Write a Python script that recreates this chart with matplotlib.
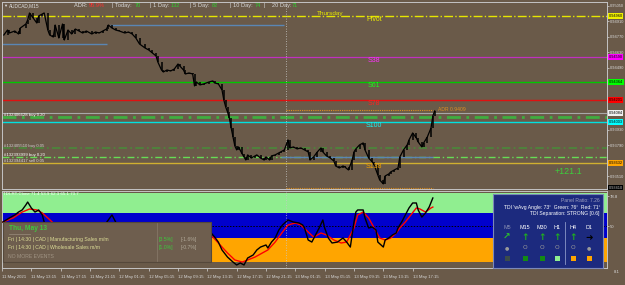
import matplotlib
matplotlib.use('Agg')
import matplotlib.pyplot as plt
from matplotlib.patches import Rectangle
from matplotlib.transforms import blended_transform_factory

plt.rcParams['font.family'] = ['Liberation Sans', 'DejaVu Sans']

# --- Data ---
# M15 bar index (0 = 11 May 09:15) and close price
bars = [1, 3, 4, 7, 9, 10, 13, 14, 15, 17,
        19, 20, 22, 23, 25, 26, 28, 29, 31, 33,
        34, 36, 38, 40, 42, 44, 46, 49, 51, 53,
        55, 57, 58, 60, 62, 64, 67, 69, 71, 73,
        75, 78, 80, 82, 84, 85, 87, 88, 90, 92,
        94, 96, 97, 99, 100, 102, 104, 105, 106, 108,
        110, 113, 115, 116, 118, 120, 121, 122, 123, 124,
        125, 126, 127, 128, 129, 131, 132, 133, 134, 136,
        138, 139, 141, 143, 144, 146, 147, 149, 151, 152,
        154, 156, 157, 159, 161, 163, 165, 167, 168, 170,
        172, 174, 175, 177, 179, 181, 182, 184, 186, 187,
        189, 191, 192, 193, 195, 197, 198, 200, 202, 203,
        205, 206, 208, 209, 211, 212, 214, 216, 217, 219,
        221, 222, 224, 226, 227, 229, 230, 232, 234, 235, 236]
closes = [0.94788, 0.94833, 0.94806, 0.94824, 0.94797, 0.94851, 0.94887, 0.94924, 0.94987, 0.94942,
          0.94896, 0.94960, 0.94978, 0.94987, 0.94833, 0.94788, 0.94770, 0.94878, 0.94761, 0.94887,
          0.94743, 0.94833, 0.94797, 0.94842, 0.94824, 0.94806, 0.94824, 0.94797, 0.94815, 0.94806,
          0.94824, 0.94842, 0.94878, 0.94851, 0.94833, 0.94824, 0.94806, 0.94815, 0.94797, 0.94761,
          0.94707, 0.94671, 0.94653, 0.94626, 0.94599, 0.94544, 0.94472, 0.94454, 0.94472, 0.94463,
          0.94481, 0.94526, 0.94508, 0.94472, 0.94436, 0.94445, 0.94436, 0.94328, 0.94364, 0.94337,
          0.94346, 0.94364, 0.94373, 0.94355, 0.94346, 0.94292, 0.94201, 0.94138, 0.94093, 0.94039,
          0.93948, 0.93867, 0.93786, 0.93750, 0.93777, 0.93714, 0.93687, 0.93659, 0.93705, 0.93677,
          0.93696, 0.93705, 0.93677, 0.93659, 0.93687, 0.93659, 0.93696, 0.93705, 0.93723, 0.93732,
          0.93750, 0.93840, 0.93768, 0.93777, 0.93759, 0.93768, 0.93750, 0.93732, 0.93659, 0.93687,
          0.93732, 0.93768, 0.93732, 0.93696, 0.93677, 0.93650, 0.93605, 0.93587, 0.93605, 0.93596,
          0.93569, 0.93659, 0.93732, 0.93759, 0.93795, 0.93813, 0.93750, 0.93677, 0.93641, 0.93614,
          0.93524, 0.93479, 0.93443, 0.93515, 0.93533, 0.93551, 0.93569, 0.93587, 0.93687, 0.93750,
          0.93795, 0.93840, 0.93903, 0.93858, 0.93822, 0.93777, 0.93813, 0.93867, 0.93948, 0.94057, 0.94102]

# horizontal levels: price, colour, style, width
level_prices = [0.94960, 0.94590, 0.94364, 0.94201, 0.94084, 0.94048, 0.94003, 0.93768, 0.93687, 0.93632]
level_colors = ['#e6e600', '#c030c0', '#00c800', '#e01010', '#a8a8a8', '#3fae3f', '#00e0e0', '#4a8a3a', '#66dd55', '#d0b030']
level_styles = ['-.', '-', '-', '-', '-', (0, (5, 2, 1, 2)), '-', (0, (5, 2, 1, 2)), (0, (5, 2, 1, 2)), '-']
level_widths = [1.0, 0.9, 1.0, 1.0, 0.8, 2.0, 1.0, 1.2, 1.0, 1.0]

fib_names = ['Pivot', 'S38', 'S61', 'S78', 'S100', 'S138']
fib_prices = [0.94960, 0.94590, 0.94364, 0.94201, 0.94003, 0.93632]
fib_colors = ['#f0f000', '#ff30ff', '#20f020', '#ff2020', '#20f0f0', '#f0a000']

trade_labels = ['#132406628 buy 0.20', '#132405510 buy 0.05', '#132393999 buy 0.20', '#132394417 sell 0.05']
trade_prices = [0.94048, 0.93768, 0.93687, 0.93632]
trade_colors = ['#ffffff', '#cfcfcf', '#ffffff', '#e0e0e0']

# steel-blue segments: start bar, end bar, price
seg_start = [0, 59, 152]
seg_end = [57, 154, 235]
seg_price = [0.94707, 0.94878, 0.93687]

adr_high = 0.94111
adr_low = 0.93402
day_break = 155

box_prices = [0.94960, 0.94590, 0.94364, 0.94201, 0.94084, 0.94003, 0.93632, 0.93410]
box_colors = ['#f0f000', '#ff00ff', '#00ff00', '#ff0000', '#f0f0f0', '#00ffff', '#ffa500', '#000000']

# TDI indicator
tdi_px_x = [0.5, 4, 7, 9, 11, 13, 14, 16, 18, 20, 22, 23, 26, 32, 37, 43, 48, 54, 58, 60,
            62, 66, 70, 75, 81, 86, 92, 97, 103, 108, 112, 115, 116, 118, 120, 123, 126, 128, 130, 132,
            134, 137, 139, 141, 144, 145, 147, 149, 151, 153, 156, 159, 162, 164, 165, 167, 169, 171, 173, 175,
            176, 178, 180, 183, 186, 188, 190, 192, 193, 194, 197, 198, 200, 202, 204, 205, 208, 209, 211, 213,
            215, 216, 218, 220, 222, 224, 226, 227, 229, 231, 233, 235]
tdi_price = [53.8, 57.7, 60.6, 63.4, 65.4, 70.2, 73.0, 67.3, 63.4, 65.4, 60.6, 53.8, 44.2, 36.6, 40.4, 31.8, 38.5, 46.2, 55.8, 60.6,
             53.8, 41.4, 31.8, 27.0, 33.7, 28.9, 36.6, 41.4, 36.6, 44.2, 48.1, 41.4, 39.4, 34.6, 27.0, 20.2, 15.4, 12.6, 14.5, 12.6,
             19.3, 22.2, 27.0, 29.8, 31.8, 28.9, 34.6, 38.5, 46.2, 51.0, 55.8, 53.8, 52.9, 51.0, 48.1, 36.6, 34.6, 41.4, 48.1, 55.8,
             48.1, 38.5, 33.7, 34.6, 38.5, 34.6, 29.8, 53.8, 63.4, 65.4, 65.4, 57.7, 48.1, 49.0, 46.2, 34.6, 29.8, 36.6, 38.5, 41.4,
             43.3, 48.1, 53.8, 60.6, 67.3, 72.1, 72.1, 65.4, 58.6, 62.5, 68.2, 76.9]
tdi_sig_x = [0.5, 6, 11, 15, 19, 22, 25, 32, 43, 54, 62, 70, 81, 92, 103, 111, 115, 119, 123, 127,
             131, 134, 138, 142, 145, 149, 153, 156, 160, 163, 167, 170, 174, 177, 181, 185, 188, 192, 194, 197,
             200, 203, 206, 209, 212, 215, 217, 220, 223, 226, 228, 231, 234, 235]
tdi_signal = [53.8, 57.7, 63.4, 66.3, 65.4, 62.5, 57.7, 46.2, 38.5, 40.4, 48.1, 38.5, 32.7, 36.6, 39.4, 43.3, 39.4, 31.8, 24.1, 17.4,
              15.4, 17.4, 20.2, 24.1, 27.0, 34.6, 44.2, 51.0, 52.9, 51.0, 44.2, 39.4, 43.3, 41.4, 36.6, 33.7, 34.6, 48.1, 60.6, 63.4,
              57.7, 48.1, 38.5, 36.6, 38.5, 43.3, 48.1, 53.8, 60.6, 67.3, 66.3, 63.4, 67.3, 68.2]
band_edges = [15.5, 38.5, 62.5, 81.7]
band_colors = ['#ffa500', '#0000cd', '#90ee90']

time_ticks = [0, 16, 32, 48, 64, 80, 96, 112, 128, 144, 160, 176, 192, 208, 224]
time_labels = ['11 May 2021', '11 May 13:15', '11 May 17:15', '11 May 21:15', '12 May 01:15',
               '12 May 05:15', '12 May 09:15', '12 May 13:15', '12 May 17:15', '12 May 21:15',
               '13 May 01:15', '13 May 05:15', '13 May 09:15', '13 May 13:15', '13 May 17:15']

tf_names = ['M5', 'M15', 'M30', 'H1', 'H4', 'D1']
tf_arrows = ['↗', '↑', '↑', '↑', '↑', '➜']
tf_arrow_colors = ['#2cc02c', '#1fb01f', '#1fb01f', '#1fb01f', '#1fb01f', '#000000']
tf_marks = ['●', 'O', 'O', 'O', 'O', '●']
tf_squares = ['#3b4b4b', '#138a13', '#138a13', '#90ee90', '#ffa500', '#ffa500']

BG = '#6a5a49'
FRAME = '#c4c4c4'
W, H = 625, 285


def box(l, t, r, b):
    return [l / W, 1 - b / H, (r - l) / W, (b - t) / H]


fig = plt.figure(figsize=(W / 100, H / 100), dpi=100, facecolor=BG)

# ---------- main price pane ----------
ax1 = fig.add_axes(box(2, 2, 607, 189), facecolor=BG)
ax1.set_xlim(0, 330)
ax1.set_ylim(0.93397, 0.95086)

for p, c, s, w in zip(level_prices, level_colors, level_styles, level_widths):
    ax1.axhline(p, color=c, ls=s, lw=w, zorder=1)
ax1.hlines(seg_price, seg_start, seg_end, color='#5a86b4', lw=1.0, zorder=2)
ax1.hlines([adr_high, adr_low], day_break, 235, color='#e09020', lw=0.8, ls=(0, (1, 1)), zorder=2)
ax1.axvline(day_break, color='#c8c8c8', lw=0.6, ls=(0, (1, 2)), zorder=1)

# price bars
ax1.vlines(bars[1:], [min(a, b) for a, b in zip(closes[:-1], closes[1:])],
           [max(a, b) for a, b in zip(closes[:-1], closes[1:])], color='black', lw=1.1, zorder=3)
ax1.plot(bars, closes, color='black', lw=0.9, zorder=3)

for name, p, c in zip(fib_names, fib_prices, fib_colors):
    ax1.text(203, p - 0.00003, name, color=c, fontsize=5.0, ha='center', va='top', zorder=4)
ax1.text(179, 0.94960 + 0.00003, 'Thursday', color='#e8e800', fontsize=4.6, ha='center', va='bottom', zorder=4)
ax1.text(238, adr_high, 'ADR 0.9409', color='#e09020', fontsize=3.6, ha='left', va='center', zorder=4)

for t, p, c in zip(trade_labels, trade_prices, trade_colors):
    ax1.text(1, p + 0.00003, t, color=c, fontsize=3.1, ha='left', va='bottom', zorder=4)

ax1.text(309, 0.93555, '+121.1', color='#3cd03c', fontsize=6.4, ha='center', va='center', zorder=4)

ax1.yaxis.tick_right()
yt = [0.95050 - 0.0014 * k for k in range(12)]
hidden = [5, 6, 7, 10]  # ticks covered by the price boxes
ax1.set_yticks(yt)
ax1.set_yticklabels(['' if k in hidden else '%.5f' % v for k, v in enumerate(yt)])
ax1.tick_params(axis='y', labelsize=2.9, colors='#d8d8d8', length=1.5, width=0.5, pad=0.6)
ax1.tick_params(axis='x', bottom=False, labelbottom=False)

trans = blended_transform_factory(ax1.transAxes, ax1.transData)
for p, c in zip(box_prices, box_colors):
    tc = '#c0c0c0' if c == '#000000' else 'black'
    ax1.text(1.0025, p, '%.5f' % p, transform=trans, fontsize=2.8, color=tc, ha='left', va='center',
             clip_on=False, zorder=6, bbox=dict(boxstyle='square,pad=0.2', fc=c, ec='none'))

# ---------- TDI pane ----------
ax2 = fig.add_axes(box(2, 191, 607, 268), facecolor=BG)
ax2.set_xlim(0, 330)
ax2.set_ylim(9.7, 83.6)
for lo, hi, c in zip(band_edges[:-1], band_edges[1:], band_colors):
    ax2.axhspan(lo, hi, color=c, lw=0, zorder=0)
ax2.axhline(50, color='black', lw=0.7, ls=(0, (1.5, 1.5)), zorder=1)
ax2.axvline(day_break, color='#c8c8c8', lw=0.6, ls=(0, (1, 2)), zorder=1)
ax2.plot(tdi_sig_x, tdi_signal, color='#ff0000', lw=1.0, zorder=3)
ax2.plot(tdi_px_x, tdi_price, color='black', lw=1.0, zorder=4)
ax2.text(0.5, 82.5, 'TDI-RT-Clone 71.4 53.9 62.3 65.1 73.7', color='white', fontsize=3.2,
         ha='left', va='top', zorder=5)

ax2.yaxis.tick_right()
ax2.set_yticks([78.8, 50])
ax2.set_yticklabels(['78.8', '50'])
ax2.tick_params(axis='y', labelsize=3.1, colors='#d8d8d8', length=1.5, width=0.5, pad=0.6)
ax2.set_xticks(time_ticks)
ax2.set_xticklabels(time_labels, ha='left')
ax2.tick_params(axis='x', labelsize=3.1, colors='#d8d8d8', length=2, width=0.5, pad=3)

for ax in (ax1, ax2):
    for sp in ax.spines.values():
        sp.set_color(FRAME)
        sp.set_linewidth(0.7)

# ---------- overlay (header, panels) ----------
ov = fig.add_axes([0, 0, 1, 1], zorder=10)
ov.set_xlim(0, W)
ov.set_ylim(H, 0)
ov.axis('off')
ov.patch.set_alpha(0)

ov.text(3, 5.5, '▼', color='#e0e0e0', fontsize=3.0, va='center', ha='left')
ov.text(9, 5.5, 'AUDCAD,M15', color='#e0e0e0', fontsize=3.4, va='center', ha='left')
header = [(74, 'ADR: ', '#d8d8d8'), (89, '95.9%', '#ff3030'),
          (112, '| Today: ', '#d8d8d8'), (135, '70', '#30d030'),
          (150, '| 1 Day: ', '#d8d8d8'), (171, '132', '#30d030'),
          (190, '| 5 Day: ', '#d8d8d8'), (212, '82', '#30d030'),
          (230, '| 10 Day: ', '#d8d8d8'), (255, '74', '#30d030'),
          (264, '|', '#d8d8d8'),
          (272, '20 Day: ', '#d8d8d8'), (292, '71', '#30d030')]
for x, s, c in header:
    ov.text(x, 5.5, s, color=c, fontsize=4.1, va='center', ha='left')
ov.text(620, 272, '8.1', color='#d8d8d8', fontsize=3.1, va='center', ha='right')

# economic events panel
ov.add_patch(Rectangle((3, 222), 208, 40, fc='#6e5e4e', ec='#55483b', lw=0.8))
ov.plot([157, 157], [223, 261], color='#8a7b6b', lw=0.5)
ov.plot([9, 30], [233.5, 233.5], color='#9a8c7c', lw=0.5)
ov.text(9, 228, 'Thu, May 13', color='#3fc83f', fontsize=4.8, fontweight='bold', va='center')
events = [('Fri | 14:30 | CAD | Manufacturing Sales m/m', '[3.5%]', '[-1.6%]'),
          ('Fri | 14:30 | CAD | Wholesale Sales m/m', '[1.0%]', '[-0.7%]')]
for i, (name, fc_, prev) in enumerate(events):
    y = 239 + 8 * i
    ov.text(8, y, name, color='#dcdc96', fontsize=3.7, va='center')
    ov.text(159, y, fc_, color='#3cc83c', fontsize=3.7, va='center')
    ov.text(181, y, prev, color='#b0a898', fontsize=3.7, va='center')
ov.text(8, 256, 'NO MORE EVENTS', color='#a09484', fontsize=3.7, va='center')

# TDI dashboard
ov.add_patch(Rectangle((493, 194), 110, 74, fc='#1c2a7e', ec='#7c88b8', lw=0.8))
ov.text(600, 200, 'Panel Ratio: 7.26', color='#9ea0c0', fontsize=3.6, ha='right', va='center')
ov.text(600, 207, "TDI 'wAvg Angle: 73°  Green: 76°  Red: 71°", color='white', fontsize=3.6, ha='right', va='center')
ov.text(600, 213.5, 'TDI Separation: STRONG [0.6]', color='white', fontsize=3.6, ha='right', va='center')
ov.plot([565, 565], [222, 264], color='#8a96c8', lw=0.6)
col_x = [507, 525, 542, 557, 573, 589]
for x, n, a, ac, m, sq in zip(col_x, tf_names, tf_arrows, tf_arrow_colors, tf_marks, tf_squares):
    ov.text(x, 227.5, n, color='#8a90b4' if n == 'M5' else 'white', fontsize=3.9, ha='center', va='center')
    ov.text(x, 237.5, a, color=ac, fontsize=6.5, fontweight='bold', ha='center', va='center',
            family=['DejaVu Sans'])
    ov.text(x, 247.5, m, color='#9a9a9a', fontsize=4.2 if m == 'O' else 3.6, ha='center', va='center',
            family=['DejaVu Sans'])
    ov.add_patch(Rectangle((x - 2.5, 255.5), 5, 5, fc=sq, ec='none'))

fig.savefig('out.png', dpi=100, facecolor=BG)
